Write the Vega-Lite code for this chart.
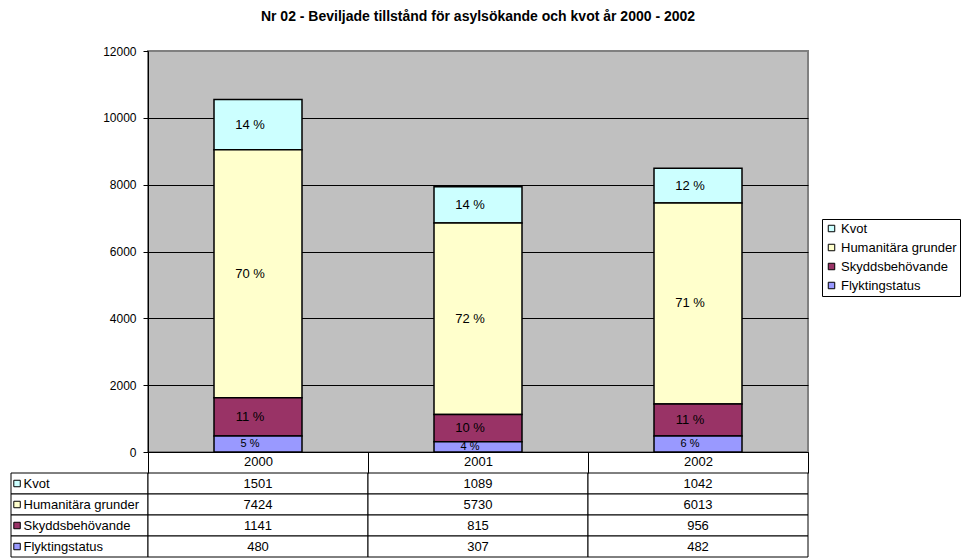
{
  "$schema": "https://vega.github.io/schema/vega-lite/v6.json",
  "padding": {"left": 10, "top": 9, "right": 0, "bottom": 0},
  "datasets": {
    "d": [
      {"year": "2000", "category": "Kvot", "series": 4, "value": 1501, "pct": "14 %"},
      {"year": "2000", "category": "Humanitära grunder", "series": 3, "value": 7424, "pct": "70 %"},
      {"year": "2000", "category": "Skyddsbehövande", "series": 2, "value": 1141, "pct": "11 %"},
      {"year": "2000", "category": "Flyktingstatus", "series": 1, "value": 480, "pct": "5 %"},
      {"year": "2001", "category": "Kvot", "series": 4, "value": 1089, "pct": "14 %"},
      {"year": "2001", "category": "Humanitära grunder", "series": 3, "value": 5730, "pct": "72 %"},
      {"year": "2001", "category": "Skyddsbehövande", "series": 2, "value": 815, "pct": "10 %"},
      {"year": "2001", "category": "Flyktingstatus", "series": 1, "value": 307, "pct": "4 %"},
      {"year": "2002", "category": "Kvot", "series": 4, "value": 1042, "pct": "12 %"},
      {"year": "2002", "category": "Humanitära grunder", "series": 3, "value": 6013, "pct": "71 %"},
      {"year": "2002", "category": "Skyddsbehövande", "series": 2, "value": 956, "pct": "11 %"},
      {"year": "2002", "category": "Flyktingstatus", "series": 1, "value": 482, "pct": "6 %"}
    ]
  },
  "columns": 2,
  "spacing": {"row": 21, "column": 0},
  "bounds": "flush",
  "resolve": {"scale": {"color": "independent"}},
  "concat": [
    {
      "width": 137,
      "height": 401,
      "data": {"values": []},
      "mark": "rect",
      "encoding": {}
    },
    {
      "width": 660,
      "height": 401,
      "title": {"text": "Nr 02 - Beviljade tillstånd för asylsökande och kvot år 2000 - 2002", "fontSize": 14, "fontWeight": "bold", "color": "black", "anchor": "middle", "offset": 21},
      "view": {"fill": "#c0c0c0", "stroke": "#808080", "strokeWidth": 2},
      "data": {"name": "d"},
      "layer": [
        {
          "mark": {"type": "bar", "stroke": "black", "strokeWidth": 1.5},
          "encoding": {
            "x": {"field": "year", "type": "nominal", "scale": {"paddingInner": 0.6, "paddingOuter": 0.3}, "axis": {"title": null, "labels": false, "ticks": false, "domainColor": "black", "domainWidth": 1, "grid": false}},
            "y": {"field": "value", "type": "quantitative", "stack": "zero", "scale": {"domain": [0, 12000]},
              "axis": {"title": null, "values": [0, 2000, 4000, 6000, 8000, 10000, 12000], "format": "d", "labelFontSize": 12, "labelColor": "black", "labelPadding": 7, "tickSize": 5, "tickColor": "black", "domainColor": "black", "grid": true, "gridColor": {"condition": {"test": "datum.value === 12000", "value": "#808080"}, "value": "#000000"}, "gridWidth": 1, "gridOpacity": 1}},
            "order": {"field": "series", "type": "quantitative", "sort": "ascending"},
            "color": {"field": "category", "type": "nominal",
              "sort": ["Kvot", "Humanitära grunder", "Skyddsbehövande", "Flyktingstatus"],
              "scale": {"range": ["#CCFFFF", "#FFFFCC", "#993366", "#9999FF"]},
              "legend": {"orient": "none", "legendX": 674, "legendY": 168, "title": null, "symbolType": "square", "symbolSize": 42, "symbolStrokeColor": "black", "symbolStrokeWidth": 1, "symbolOpacity": 1, "labelFontSize": 13, "labelColor": "black", "labelLimit": 200, "labelOffset": 3, "rowPadding": 5, "strokeColor": "black", "fillColor": "white", "padding": 3}}
          }
        },
        {
          "mark": {"type": "text", "dx": -8, "baseline": "middle", "align": "center", "color": "black"},
          "encoding": {
            "x": {"field": "year", "type": "nominal"},
            "y": {"field": "value", "type": "quantitative", "stack": "zero", "bandPosition": 0.5},
            "detail": {"field": "category", "type": "nominal"},
            "order": {"field": "series", "type": "quantitative", "sort": "ascending"},
            "text": {"field": "pct", "type": "nominal"},
            "size": {"condition": {"test": "datum.category === 'Flyktingstatus'", "value": 11}, "value": 13}
          }
        }
      ]
    },
    {
      "width": 137,
      "height": 84,
      "data": {"name": "d"},
      "transform": [{"filter": "datum.year === '2000'"}],
      "layer": [
        {
          "mark": {"type": "rect", "fill": "white", "stroke": "black", "strokeWidth": 1},
          "encoding": {
            "y": {"field": "category", "type": "nominal", "sort": ["Kvot", "Humanitära grunder", "Skyddsbehövande", "Flyktingstatus"], "scale": {"paddingInner": 0, "paddingOuter": 0},
              "axis": {"orient": "left", "title": null, "ticks": false, "domain": false, "labelAlign": "left", "labelPadding": -12, "labelFontSize": 13, "labelColor": "black", "labelLimit": 200}}
          }
        },
        {
          "mark": {"type": "point", "shape": "square", "filled": true, "size": 42, "stroke": "black", "strokeWidth": 1, "opacity": 1},
          "encoding": {
            "y": {"field": "category", "type": "nominal", "sort": ["Kvot", "Humanitära grunder", "Skyddsbehövande", "Flyktingstatus"]},
            "x": {"datum": "key", "type": "nominal", "scale": {"type": "point", "align": 0.044}, "axis": null},
            "color": {"field": "category", "type": "nominal", "sort": ["Kvot", "Humanitära grunder", "Skyddsbehövande", "Flyktingstatus"], "scale": {"range": ["#CCFFFF", "#FFFFCC", "#993366", "#9999FF"]}, "legend": null}
          }
        }
      ]
    },
    {
      "width": 660,
      "height": 84,
      "data": {"name": "d"},
      "layer": [
        {
          "mark": {"type": "rect", "fill": "white", "stroke": "black", "strokeWidth": 1},
          "encoding": {
            "x": {"field": "year", "type": "nominal", "scale": {"paddingInner": 0, "paddingOuter": 0},
              "axis": {"orient": "top", "title": null, "labelAngle": 0, "labelFontSize": 13, "labelColor": "black", "tickBand": "extent", "tickSize": 21, "tickColor": "black", "domain": false, "labelPadding": -16}},
            "y": {"field": "category", "type": "nominal", "sort": ["Kvot", "Humanitära grunder", "Skyddsbehövande", "Flyktingstatus"], "scale": {"paddingInner": 0, "paddingOuter": 0}, "axis": null}
          }
        },
        {
          "mark": {"type": "text", "fontSize": 13, "color": "black"},
          "encoding": {
            "x": {"field": "year", "type": "nominal"},
            "y": {"field": "category", "type": "nominal", "sort": ["Kvot", "Humanitära grunder", "Skyddsbehövande", "Flyktingstatus"]},
            "text": {"field": "value", "type": "quantitative", "format": "d"}
          }
        }
      ]
    }
  ],
  "config": {
    "font": "Liberation Sans",
    "view": {"stroke": null},
    "axis": {"labelFont": "Liberation Sans"},
    "legend": {"labelFont": "Liberation Sans"}
  }
}
